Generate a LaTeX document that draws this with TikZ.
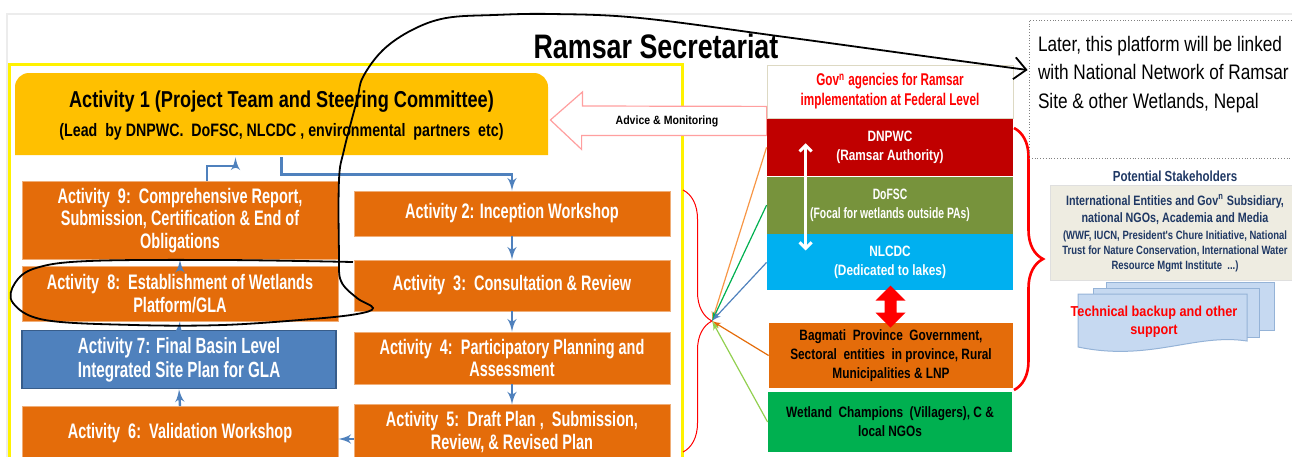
\documentclass[tikz,border=0pt]{standalone}
\usepackage{fontspec}
\setmainfont{Liberation Sans}[FakeStretch=0.69]
\newfontfamily\midfont{Liberation Sans}[FakeStretch=0.79]
\newfontfamily\widefont{Liberation Sans}[FakeStretch=0.88]
\newfontfamily\plainfont{Liberation Sans}[FakeStretch=0.82]
\usepackage{xcolor}
\usetikzlibrary{arrows,arrows.meta,positioning,calc,decorations.pathreplacing}

\definecolor{gold}{HTML}{FFC000}
\definecolor{actorange}{HTML}{E46C0A}
\definecolor{actblue}{HTML}{4F81BD}
\definecolor{actblueline}{HTML}{385D8A}
\definecolor{dnpwcred}{HTML}{C00000}
\definecolor{dofscgreen}{HTML}{77933C}
\definecolor{nlcdcblue}{HTML}{00B0F0}
\definecolor{champgreen}{HTML}{00B050}
\definecolor{lightgreen}{HTML}{92D050}
\definecolor{paleorange}{HTML}{F79646}
\definecolor{govgray}{HTML}{DDD9C3}
\definecolor{beige}{HTML}{EEECE1}
\definecolor{navy}{HTML}{1F3864}
\definecolor{sheetblue}{HTML}{C6D9F1}
\definecolor{sheetline}{HTML}{95B3D7}
\definecolor{advicered}{HTML}{FF9F9F}

\newcommand{\smallnote}{\fontsize{6}{7.5}\selectfont}

\begin{document}
\begin{tikzpicture}[x=0.5pt,y=-0.5pt,>=latex',
    flow/.style={->,draw=actblue,line width=1.2pt},
    feed/.style={->,line width=0.6pt},
    actbox/.style={rectangle,fill=actorange,draw=actorange!55!white,line width=0.4pt,
        text=white,align=center,minimum width=158pt,
        font=\bfseries\fontsize{10.5}{11.25}\selectfont},
    agency/.style={rectangle,text=white,align=center,minimum width=123pt,inner sep=2pt,
        font=\midfont\bfseries\fontsize{7.5}{9.5}\selectfont},
    sheet/.style={fill=sheetblue,draw=sheetline,line width=0.5pt}]

    \useasboundingbox (0,0) rectangle (1292,456);

    % slide frame and the yellow working area
    \draw[gray!15,line width=1pt] (7,470) -- (7,14) -- (1300,14);
    \draw[yellow,line width=1.5pt] (9,64) rectangle (682,480);

    \node[font=\midfont\bfseries\fontsize{17}{20}\selectfont] (title) at (656,46) {Ramsar Secretariat};

    % activity 1, only the top corners are rounded
    \fill[gold] (15,155) [rounded corners=7pt] -- (15,73) -- (548,73) -- (548,114)
        [sharp corners] -- (548,155) -- cycle;
    \node[align=center,minimum width=266.5pt,minimum height=41pt,font=\midfont\bfseries] (act1) at (281.5,116)
        {\fontsize{11.5}{14}\selectfont Activity 1 (Project Team and Steering Committee)\\[2.5pt]
         \fontsize{9}{11}\selectfont (Lead\ \ by DNPWC.\ \ DoFSC, NLCDC , environmental\ \ partners\ \ etc)};

    % left column
    \node[actbox,minimum height=33.5pt] (act9) at (180,220.5)
        {Activity\ \ 9:\ \ Comprehensive Report,\\Submission, Certification \& End of\\Obligations};
    \node[actbox,minimum height=27.5pt] (act8) at (180,293.5)
        {Activity\ \ 8:\ \ Establishment of Wetlands\\Platform/GLA};
    \node[actbox,fill=actblue,draw=actblueline,line width=0.8pt,minimum width=157pt,minimum height=27.5pt,
        font=\bfseries\fontsize{11}{12}\selectfont] (act7) at (179,359.5)
        {Activity 7: Final Basin Level\\Integrated Site Plan for GLA};
    \node[actbox,minimum height=27pt] (act6) at (180,433.5) {Activity\ \ 6:\ \ Validation Workshop};

    % right column
    \node[actbox,minimum height=22.5pt] (act2) at (512,213.5) {Activity 2: Inception Workshop};
    \node[actbox,minimum height=25.5pt] (act3) at (512,285.5) {Activity\ \ 3:\ \ Consultation \& Review};
    \node[actbox,minimum height=26pt] (act4) at (512,358)
        {Activity\ \ 4:\ \ Participatory Planning and\\Assessment};
    \node[actbox,minimum height=26pt] (act5) at (512,432)
        {Activity\ \ 5:\ \ Draft Plan ,\ \ Submission,\\Review, \& Revised Plan};

    \draw[flow] (act1.south) -- ++(0,17) -| (act2.north);
    \draw[flow] (act2.south) -- (act3.north);
    \draw[flow] (act3.south) -- (act4.north);
    \draw[flow] (act4.south) -- (act5.north);
    \draw[flow] ([yshift=-3.5pt]act5.west) -- ([yshift=-3.5pt]act5.west -| act6.east);
    \draw[flow] (act6.north) -- (act7.south);
    \draw[flow] (act7.north) -- (act8.south);
    \draw[flow] (act8.north) -- (act9.south);
    \draw[flow] ($(act9.north)+(27,0)$) -- ++(0,-15) -| ($(act1.south)+(-46,0)$);

    % federal agencies
    \node[agency,fill=white,draw=govgray,text=red,minimum height=26.5pt,
        font=\bfseries\fontsize{8.5}{10}\selectfont] (gov) at (890,91.5)
        {Gov\textsuperscript{n} agencies for Ramsar\\implementation at Federal Level};

    % advice arrow from the federal agencies
    \coordinate (advtip) at ($(act1.east)+(2,4)$);
    \draw[advicered,fill=white,line width=0.6pt] (advtip) -- ++(32,-28) -- ++(0,14)
        -- ($(gov.south west)+(0,-12)$) -- ($(gov.south west)+(0,17)$) -- ++(-185,0) -- ++(0,14) -- cycle;
    \node[font=\widefont\bfseries\fontsize{6}{7}\selectfont] (advice) at (667,121) {Advice \& Monitoring};

    \node[agency,fill=dnpwcred,minimum height=28.5pt,below=0pt of gov] (dnpwc) {DNPWC\\(Ramsar Authority)};
    \node[agency,fill=dofscgreen,minimum height=28.5pt,below=0pt of dnpwc,
        font=\bfseries\fontsize{7.5}{9.5}\selectfont] (dofsc) {DoFSC\\(Focal for wetlands outside PAs)};
    \node[agency,fill=nlcdcblue,minimum height=28pt,below=0pt of dofsc] (nlcdc) {NLCDC\\(Dedicated to lakes)};
    \node[agency,fill=actorange,text=black,minimum width=122pt,minimum height=32.5pt] (bagmati) at (891,355.5)
        {Bagmati\ \ Province\ \ Government,\\Sectoral\ \ entities\ \ in province, Rural\\Municipalities \& LNP};
    \node[agency,fill=champgreen,text=black,minimum width=122pt,minimum height=30pt] (champ) at (890,422)
        {Wetland\ \ Champions\ \ (Villagers), C \&\\local NGOs};

    \draw[{Straight Barb[length=3pt,width=6pt]}-{Straight Barb[length=3pt,width=6pt]},white,line width=1.5pt]
        ($(dnpwc.west)+(39,-4)$) -- ($(nlcdc.west)+(39,-12)$);
    \fill[red,shift={($(nlcdc.south)!0.5!(bagmati.north)$)}] (0,-21) -- (15,-6) -- (6,-6) -- (6,6) -- (15,6)
        -- (0,21) -- (-15,6) -- (-6,6) -- (-6,-6) -- (-15,-6) -- cycle;

    % braces and feedback into the activities
    \draw[red,line width=0.5pt,decorate,decoration={brace,amplitude=14.5pt}] (683,190) -- (683,452);
    \draw[red,line width=1.3pt,decorate,decoration={brace,amplitude=14.5pt}] (1014,128) -- (1014,390);
    \coordinate (hub) at (712,321);
    \draw[feed,paleorange] (dnpwc.west) -- (hub);
    \draw[feed,champgreen] (dofsc.west) -- (hub);
    \draw[feed,actblue] (nlcdc.west) -- (hub);
    \draw[feed,actorange] (bagmati.west) -- (hub);
    \draw[feed,lightgreen] (champ.west) -- (hub);

    % outlook box
    \node[draw=gray,densely dotted,minimum width=137.5pt,minimum height=69pt] (later) at (1166.5,89) {};
    \node[anchor=north west,align=left,inner sep=0pt,font=\plainfont\fontsize{10.5}{14.25}\selectfont] (latertext)
        at ($(later.north west)+(9,16)$)
        {Later, this platform will be linked\\with National Network of Ramsar\\Site \& other Wetlands, Nepal};
    \coordinate (linkend) at ($(later.west)+(-1,-19)$);

    % stakeholders
    \node[text=navy,font=\midfont\bfseries\fontsize{7.3}{8}\selectfont] (stake) at (1175,176) {Potential Stakeholders};
    \node[draw=gray!25,fill=beige,minimum width=127pt,minimum height=47.5pt] (entities) at (1177,232.5) {};
    \node[text=navy,align=center,font=\midfont\bfseries\fontsize{6.8}{7.5}\selectfont] (entitytext) at (1175,233)
        {International Entities and Gov\textsuperscript{n} Subsidiary,\\[1pt] national NGOs, Academia and Media\\[1pt]
         \smallnote (WWF, IUCN, President's Chure Initiative, National\\
         \smallnote Trust for Nature Conservation, International Water\\
         \smallnote Resource Mgmt Institute\ \ ...)};
    \filldraw[sheet] (1106,282) rectangle (1274,330);
    \filldraw[sheet] (1093,288) rectangle (1259,337);
    \filldraw[sheet] (1078,294) -- (1247,294) -- (1247,341) .. controls (1195,333) and (1150,362) .. (1078,347) -- cycle;
    \node[text=red,align=center,font=\widefont\bfseries\fontsize{7.2}{9}\selectfont] (tech) at (1154,322)
        {Technical backup and other\\support};

    % hand drawn link from activity 8
    \draw[-{Straight Barb[length=6pt,width=11pt]},line width=0.9pt] plot[smooth,tension=0.6] coordinates {
        (353,262) (223,260) (89,261) (36,268) (15,283) (13,303) (45,320) (134,325) (223,325) (312,319)
        (357,314) (373,308) (357,298) (341,281) (339,254) (339,180) (344,150) (357,100) (363,77) (383,50)
        (412,30) (446,18) (494,15) (552,14) (640,18) (785,37) (931,57) (linkend)};
\end{tikzpicture}
\end{document}
